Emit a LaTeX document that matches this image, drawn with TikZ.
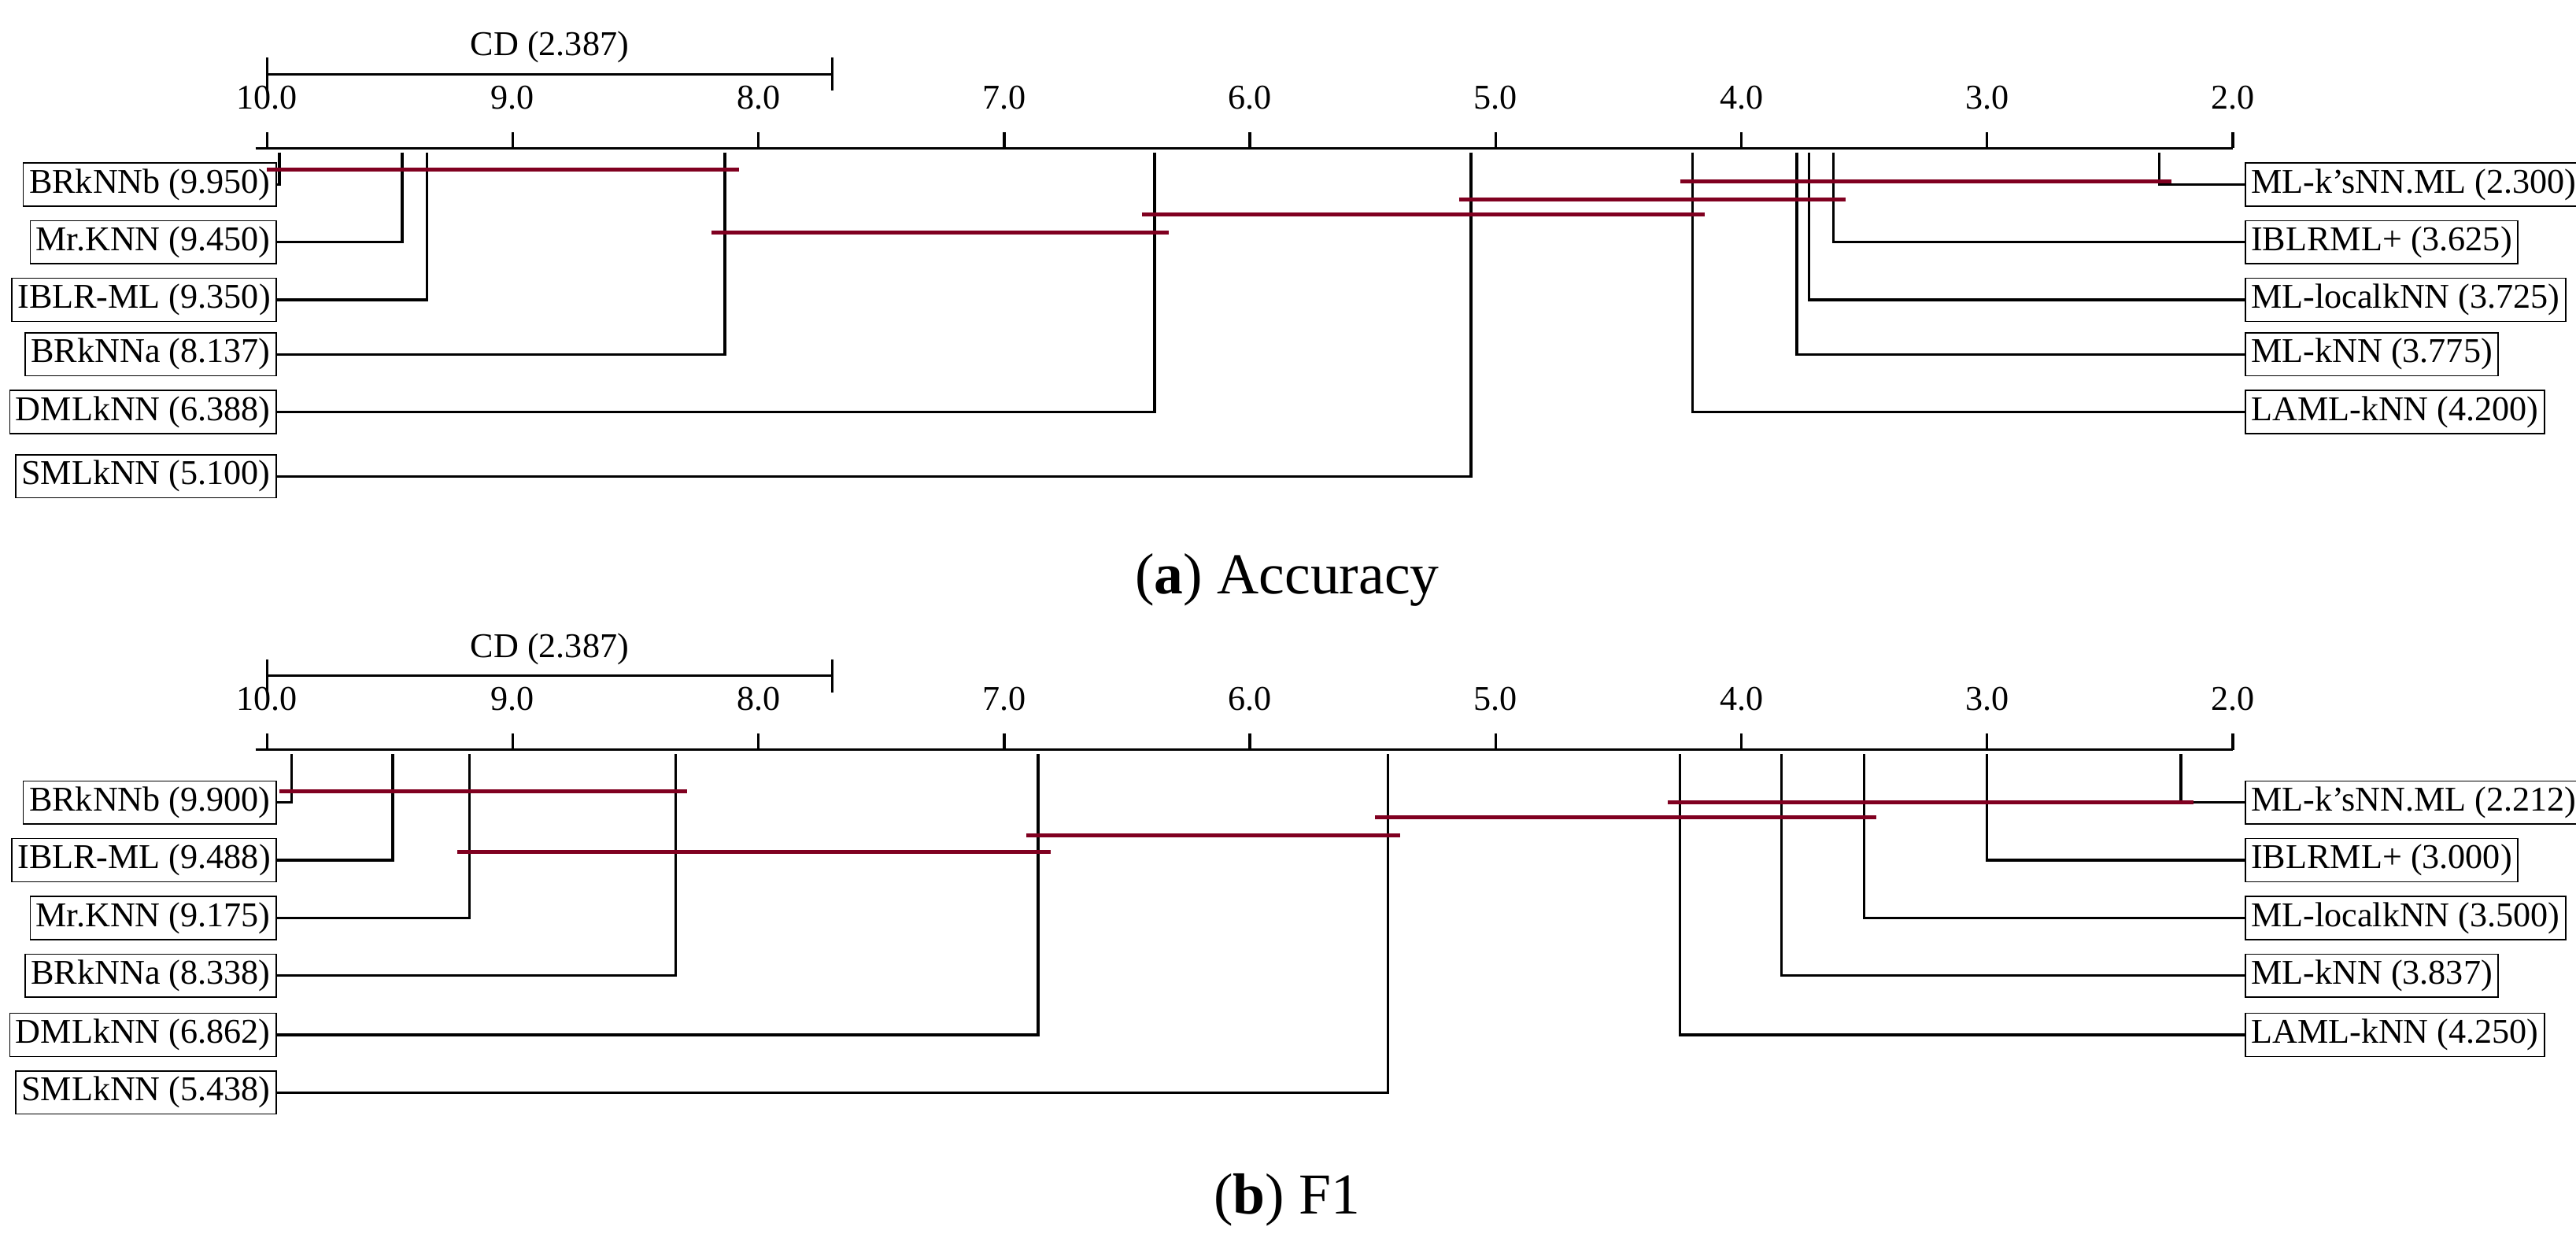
\documentclass[tikz,border=0pt]{standalone}
\usepackage{fontspec}
\setmainfont{Liberation Serif}
\definecolor{cliq}{HTML}{800020}
\newcommand\rp[1]{{33.06-2.982*(#1)}}
\tikzset{
  lbl/.style={draw, thin, inner sep=2pt, font=\fontsize{12}{14}\selectfont},
  conn/.style={line width=0.9pt},
  clq/.style={line width=1.3pt, cliq},
  axis/.style={line width=0.9pt}
}
\begin{document}
\begin{tikzpicture}
\useasboundingbox (0,0) rectangle (31.26,-15.1);

% ---- (a) Accuracy
\draw[axis] (3.24,-0.9) -- (10.1,-0.9) node[midway, above, font=\fontsize{12}{14}\selectfont] {CD (2.387)};
\draw[axis] (3.24,-0.7) -- (3.24,-1.1);
\draw[axis] (10.1,-0.7) -- (10.1,-1.1);
\draw[axis] (3.1,-1.8) -- (\rp{2},-1.8);
\foreach \t in {10,9,...,2} {
  \draw[axis] (\rp{\t},-1.8) -- (\rp{\t},-1.6) node[above=4pt, font=\fontsize{12}{14}\selectfont] {\t.0};
}
% left methods
\foreach \i/\name/\r/\y in {1/BRkNNb/9.950/-2.24, 2/Mr.KNN/9.450/-2.94, 3/IBLR-ML/9.350/-3.64, 4/BRkNNa/8.137/-4.3, 5/DMLkNN/6.388/-5.0, 6/SMLkNN/5.100/-5.78} {
  \node[lbl, anchor=east] (aL\i) at (3.36,\y) {\name{} (\r)};
  \draw[conn] (\rp{\r},-1.85) |- (aL\i.east);
}
% right methods
\foreach \i/\name/\r/\y in {1/ML-k'sNN.ML/2.300/-2.24, 2/IBLRML+/3.625/-2.94, 3/ML-localkNN/3.725/-3.64, 4/ML-kNN/3.775/-4.3, 5/LAML-kNN/4.200/-5.0} {
  \node[lbl, anchor=west] (aR\i) at (27.24,\y) {\name{} (\r)};
  \draw[conn] (\rp{\r},-1.85) |- (aR\i.west);
}
% cliques
\draw[clq] (\rp{10.0},-2.06) -- (\rp{8.08},-2.06);
\draw[clq] (\rp{8.19},-2.82) -- (\rp{6.33},-2.82);
\draw[clq] (\rp{6.44},-2.6) -- (\rp{4.15},-2.6);
\draw[clq] (\rp{5.15},-2.42) -- (\rp{3.575},-2.42);
\draw[clq] (\rp{4.25},-2.2) -- (\rp{2.25},-2.2);
\node[font=\fontsize{20}{24}\selectfont] (capa) at (15.62,-7.04) {(\textbf{a}) Accuracy};

% ---- (b) F1
\draw[axis] (3.24,-8.2) -- (10.1,-8.2) node[midway, above, font=\fontsize{12}{14}\selectfont] {CD (2.387)};
\draw[axis] (3.24,-8.0) -- (3.24,-8.4);
\draw[axis] (10.1,-8.0) -- (10.1,-8.4);
\draw[axis] (3.1,-9.1) -- (\rp{2},-9.1);
\foreach \t in {10,9,...,2} {
  \draw[axis] (\rp{\t},-9.1) -- (\rp{\t},-8.9) node[above=4pt, font=\fontsize{12}{14}\selectfont] {\t.0};
}
\foreach \i/\name/\r/\y in {1/BRkNNb/9.900/-9.74, 2/IBLR-ML/9.488/-10.44, 3/Mr.KNN/9.175/-11.14, 4/BRkNNa/8.338/-11.84, 5/DMLkNN/6.862/-12.56, 6/SMLkNN/5.438/-13.26} {
  \node[lbl, anchor=east] (bL\i) at (3.36,\y) {\name{} (\r)};
  \draw[conn] (\rp{\r},-9.15) |- (bL\i.east);
}
\foreach \i/\name/\r/\y in {1/ML-k'sNN.ML/2.212/-9.74, 2/IBLRML+/3.000/-10.44, 3/ML-localkNN/3.500/-11.14, 4/ML-kNN/3.837/-11.84, 5/LAML-kNN/4.250/-12.56} {
  \node[lbl, anchor=west] (bR\i) at (27.24,\y) {\name{} (\r)};
  \draw[conn] (\rp{\r},-9.15) |- (bR\i.west);
}
\draw[clq] (\rp{9.95},-9.6) -- (\rp{8.29},-9.6);
\draw[clq] (\rp{9.225},-10.34) -- (\rp{6.81},-10.34);
\draw[clq] (\rp{6.91},-10.14) -- (\rp{5.39},-10.14);
\draw[clq] (\rp{5.49},-9.92) -- (\rp{3.45},-9.92);
\draw[clq] (\rp{4.3},-9.74) -- (\rp{2.16},-9.74);
\node[font=\fontsize{20}{24}\selectfont] (capb) at (15.62,-14.56) {(\textbf{b}) F1};
\end{tikzpicture}
\end{document}
